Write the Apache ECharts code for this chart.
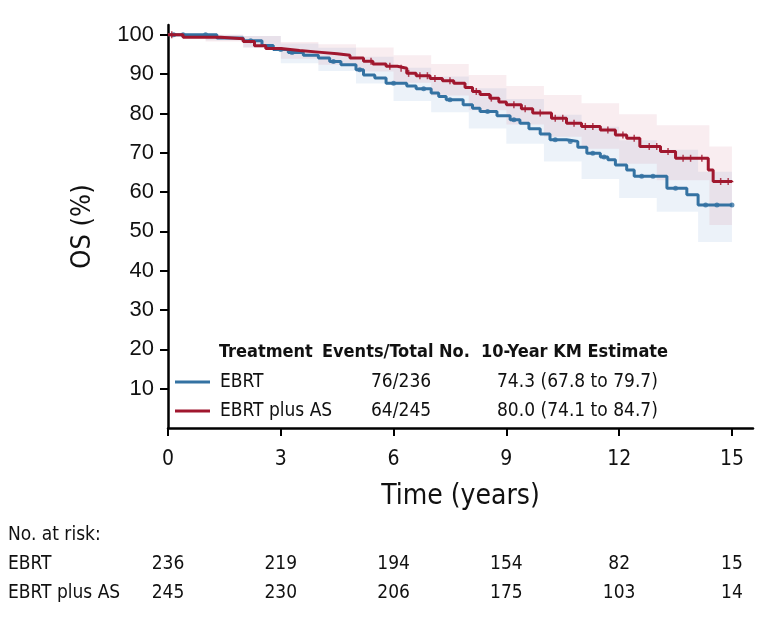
<!DOCTYPE html>
<html>
<head>
<meta charset="utf-8">
<script src="https://cdn.jsdelivr.net/npm/echarts@6/dist/echarts.min.js"></script>
<style>
  html, body { margin: 0; padding: 0; background: #fff; }
  #chart { width: 770px; height: 620px; }
</style>
</head>
<body>
<div id="chart"></div>
<script>
'use strict';

// KM step curves (time in years, OS in %)
const ebrtTime = [0, 1.3, 2.0, 2.5, 2.8, 3.2, 3.6, 4.0, 4.3, 4.6, 5.0, 5.2, 5.5, 5.8, 6.35, 6.6, 7.0, 7.2, 7.4, 7.85, 8.1, 8.3, 8.75, 9.1, 9.36, 9.6, 9.9, 10.16, 10.6, 10.9, 11.14, 11.5, 11.7, 11.9, 12.2, 12.4, 13.27, 13.8, 14.1, 15.0];
const ebrtOS = [100, 99.2, 98.5, 97.3, 96.3, 95.5, 94.8, 94.1, 93.2, 92.4, 91.1, 89.8, 89.0, 87.7, 87.0, 86.3, 85.2, 84.3, 83.5, 82.2, 81.3, 80.5, 79.4, 78.4, 77.5, 76.1, 74.8, 73.3, 72.9, 71.4, 69.9, 68.9, 68.2, 66.9, 65.6, 64.0, 61.0, 59.3, 56.7, 56.7];

const asTime = [0, 0.4, 1.4, 2.0, 2.3, 2.6, 3.0, 3.5, 4.0, 4.5, 4.84, 5.2, 5.45, 5.8, 6.1, 6.35, 6.6, 6.97, 7.3, 7.6, 7.9, 8.1, 8.3, 8.56, 8.8, 9.0, 9.4, 9.7, 10.2, 10.6, 11.0, 11.5, 11.9, 12.2, 12.55, 13.1, 13.5, 14.37, 14.5, 15.0];
const asOS = [100, 99.4, 99.0, 98.3, 97.2, 96.5, 96.0, 95.6, 95.2, 94.8, 94.1, 93.3, 92.6, 92.0, 91.5, 90.2, 89.6, 88.9, 88.3, 87.7, 86.6, 85.6, 84.8, 83.9, 82.9, 82.2, 81.2, 80.1, 78.8, 77.5, 76.7, 75.8, 74.5, 73.7, 71.6, 70.3, 68.6, 65.6, 62.7, 62.5];

// confidence bands
const ebrtCiTime = [0, 1, 2, 3, 4, 5, 6, 7, 8, 9, 10, 11, 12, 13, 14.1, 15];
const ebrtLower = [100, 98.6, 96.8, 92.8, 90.8, 87.6, 83.2, 80.3, 76.2, 72.3, 67.8, 63.3, 58.5, 55.0, 47.3, 47.3];
const ebrtUpper = [100, 100, 99.7, 97.8, 96.7, 94.4, 91.6, 89.4, 86.4, 83.7, 79.7, 76.6, 73.2, 70.8, 65.2, 65.2];

const asCiTime = [0, 1, 2, 3, 4, 5, 6, 7, 8, 9, 10, 11, 12, 13, 14.4, 15];
const asLower = [100, 98.3, 96.8, 93.9, 92.4, 90.7, 87.8, 84.6, 80.8, 77.2, 74.1, 71.0, 67.2, 63.0, 51.6, 51.6];
const asUpper = [100, 100, 99.7, 98.2, 97.6, 96.8, 94.8, 92.6, 89.8, 87.0, 84.7, 82.6, 79.8, 77.0, 71.6, 71.6];

// censor marks
const ebrtCensor = [0.15, 0.4, 1.0, 2.2, 3.0, 3.3, 4.4, 5.1, 6.0, 6.8, 7.5, 8.5, 9.2, 10.3, 10.7, 11.3, 11.6, 12.6, 12.9, 13.5, 14.3, 14.6, 15.0];
const asCensor = [0.1, 5.4, 5.9, 6.2, 6.4, 6.7, 6.9, 7.1, 7.5, 8.2, 8.6, 9.2, 9.5, 9.9, 10.3, 10.5, 10.8, 11.1, 11.3, 11.7, 12.1, 12.4, 12.8, 13.0, 13.3, 13.7, 13.9, 14.2, 14.7, 14.9];

// axis ticks
const xTicks = [0, 3, 6, 9, 12, 15];
const yTicks = [10, 20, 30, 40, 50, 60, 70, 80, 90, 100];

// legend table
const groups = ["EBRT", "EBRT plus AS"];
const events = ["76/236", "64/245"];
const km10 = ["74.3 (67.8 to 79.7)", "80.0 (74.1 to 84.7)"];

// number at risk
const riskTime = [0, 3, 6, 9, 12, 15];
const ebrtRisk = [236, 219, 194, 154, 82, 15];
const asRisk = [245, 230, 206, 175, 103, 14];

const BLUE = "#3472a2";
const RED = "#a0172e";
const NARROW = "'DejaVu Sans Condensed', 'Liberation Sans Narrow', sans-serif";
const SANS = "'Liberation Sans', Arial, sans-serif";

function zip(xs, ys) {
    return xs.map((x, i) => [x, ys[i]]);
}

function osAt(times, values, t) {
    let v = values[0];
    for (let i = 0; i < times.length; i++) {
        if (times[i] <= t) v = values[i];
    }
    return v;
}

// step-shaped confidence band as one polygon, placed through the axes
function band(name, times, lower, upper, color) {
    return {
        name: name,
        type: "custom",
        silent: true,
        z: 1,
        data: [[times[0], lower[0]]],
        renderItem: (params, api) => {
            const pts = [];
            for (let i = 0; i < times.length - 1; i++) {
                pts.push(api.coord([times[i], upper[i]]));
                pts.push(api.coord([times[i + 1], upper[i]]));
            }
            for (let i = times.length - 2; i >= 0; i--) {
                pts.push(api.coord([times[i + 1], lower[i]]));
                pts.push(api.coord([times[i], lower[i]]));
            }
            return {
                type: "polygon",
                shape: { points: pts },
                style: { fill: color }
            };
        }
    };
}

const chart = echarts.init(document.getElementById("chart"), null, { renderer: "canvas" });

const option = {
    animation: false,
    backgroundColor: "#fff",
    grid: {
        left: 168,
        right: 17,
        top: 25,
        bottom: 192
    },
    xAxis: {
        type: "value",
        min: 0,
        max: 15.56,
        name: "Time (years)",
        nameLocation: "middle",
        nameGap: 55,
        nameTextStyle: { fontFamily: NARROW, fontSize: 28, color: "#111" },
        axisLine: { lineStyle: { color: "#000", width: 2.5 } },
        axisTick: { customValues: xTicks, length: 8, lineStyle: { color: "#000", width: 2 } },
        axisLabel: { customValues: xTicks, margin: 21, fontFamily: NARROW, fontSize: 21, color: "#111" },
        splitLine: { show: false }
    },
    yAxis: {
        type: "value",
        min: 0,
        max: 102.5,
        name: "OS (%)",
        nameLocation: "middle",
        nameGap: 72,
        nameTextStyle: { fontFamily: NARROW, fontSize: 27, color: "#111" },
        axisLine: { show: true, lineStyle: { color: "#000", width: 2.5 } },
        axisTick: { show: true, customValues: yTicks, length: 8, lineStyle: { color: "#000", width: 2 } },
        axisLabel: { customValues: yTicks, margin: 14, fontFamily: SANS, fontSize: 22, color: "#111" },
        splitLine: { show: false }
    },
    series: [
        band("ebrtCI", ebrtCiTime, ebrtLower, ebrtUpper, "rgba(110,155,210,0.13)"),
        band("asCI", asCiTime, asLower, asUpper, "rgba(205,110,130,0.12)"),
        {
            name: "EBRT",
            type: "line",
            step: "end",
            data: zip(ebrtTime, ebrtOS),
            symbol: "none",
            lineStyle: { color: BLUE, width: 3 },
            z: 3
        },
        {
            name: "EBRT plus AS",
            type: "line",
            step: "end",
            data: zip(asTime, asOS),
            symbol: "none",
            lineStyle: { color: RED, width: 3 },
            z: 4
        },
        {
            name: "EBRT censored",
            type: "scatter",
            data: ebrtCensor.map(t => [t, osAt(ebrtTime, ebrtOS, t)]),
            symbol: "circle",
            symbolSize: 5,
            itemStyle: { color: BLUE },
            z: 3
        },
        {
            name: "EBRT plus AS censored",
            type: "scatter",
            data: asCensor.map(t => [t, osAt(asTime, asOS, t)]),
            symbol: "rect",
            symbolSize: [1.5, 7],
            itemStyle: { color: RED },
            z: 4
        }
    ]
};

chart.setOption(option);

// legend table inside plot + risk table below
(() => {
    const graphics = [];
    const hdr = { fontFamily: NARROW, fontSize: 18, fontWeight: "bold", fill: "#111", verticalAlign: "middle" };
    const row = { fontFamily: NARROW, fontSize: 19, fill: "#111", verticalAlign: "middle" };

    graphics.push({ type: "text", x: 219, y: 352, style: Object.assign({ text: "Treatment" }, hdr) });
    graphics.push({ type: "text", x: 322, y: 352, style: Object.assign({ text: "Events/Total No." }, hdr) });
    graphics.push({ type: "text", x: 481, y: 352, style: Object.assign({ text: "10-Year KM Estimate" }, hdr) });

    const rowY = [382, 411];
    const colors = [BLUE, RED];
    groups.forEach((g, i) => {
        graphics.push({
            type: "line",
            shape: { x1: 175, y1: rowY[i], x2: 210, y2: rowY[i] },
            style: { stroke: colors[i], lineWidth: 3 }
        });
        graphics.push({ type: "text", x: 220, y: rowY[i], style: Object.assign({ text: g }, row) });
        graphics.push({ type: "text", x: 371, y: rowY[i], style: Object.assign({ text: events[i] }, row) });
        graphics.push({ type: "text", x: 497, y: rowY[i], style: Object.assign({ text: km10[i] }, row) });
    });

    const risk = { fontFamily: NARROW, fontSize: 19, fill: "#111", verticalAlign: "middle" };
    graphics.push({ type: "text", x: 8, y: 535, style: Object.assign({ text: "No. at risk:" }, risk) });
    graphics.push({ type: "text", x: 8, y: 564, style: Object.assign({ text: groups[0] }, risk) });
    graphics.push({ type: "text", x: 8, y: 593, style: Object.assign({ text: groups[1] }, risk) });

    riskTime.forEach((t, i) => {
        const px = chart.convertToPixel({ xAxisIndex: 0 }, t);
        graphics.push({ type: "text", x: px, y: 564, style: Object.assign({ text: String(ebrtRisk[i]), align: "center" }, risk) });
        graphics.push({ type: "text", x: px, y: 593, style: Object.assign({ text: String(asRisk[i]), align: "center" }, risk) });
    });

    chart.setOption({ graphic: graphics });
})();
</script>
</body>
</html>
